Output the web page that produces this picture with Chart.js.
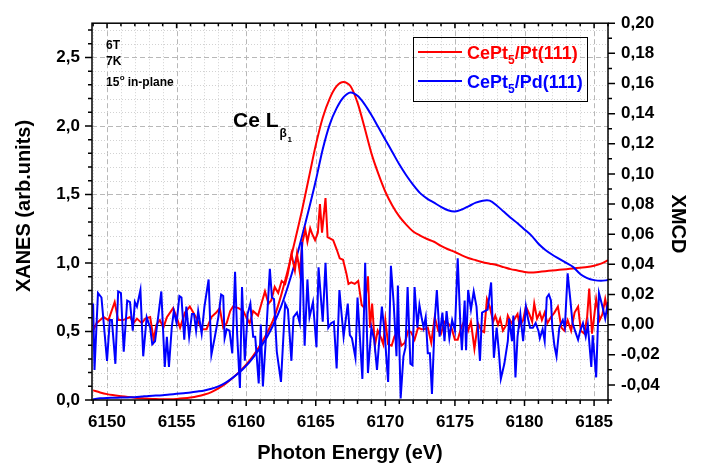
<!DOCTYPE html>
<html>
<head>
<meta charset="utf-8">
<script src="https://cdn.jsdelivr.net/npm/chart.js@4/dist/chart.umd.min.js"></script>
<style>
  html, body { margin: 0; padding: 0; background: #fff; }
  #wrap { width: 702px; height: 464px; position: relative; }
</style>
</head>
<body>
<div id="wrap"><canvas id="xmcdChart"></canvas></div>
<script>
// XANES spectra (left axis), 0.5 eV grid
var xanesEnergy = [6149, 6149.5, 6150, 6150.5, 6151, 6151.5, 6152, 6152.5, 6153, 6153.5, 6154, 6154.5, 6155, 6155.5, 6156, 6156.5, 6157, 6157.5, 6158, 6158.5, 6159, 6159.5, 6160, 6160.5, 6161, 6161.5, 6162, 6162.5, 6163, 6163.5, 6164, 6164.5, 6165, 6165.5, 6166, 6166.5, 6167, 6167.5, 6168, 6168.5, 6169, 6169.5, 6170, 6170.5, 6171, 6171.5, 6172, 6172.5, 6173, 6173.5, 6174, 6174.5, 6175, 6175.5, 6176, 6176.5, 6177, 6177.5, 6178, 6178.5, 6179, 6179.5, 6180, 6180.5, 6181, 6181.5, 6182, 6182.5, 6183, 6183.5, 6184, 6184.5, 6185, 6185.5, 6186];
var xanesPt = [0.070, 0.055, 0.043, 0.035, 0.028, 0.022, 0.017, 0.012, 0.009, 0.007, 0.006, 0.006, 0.008, 0.012, 0.018, 0.027, 0.040, 0.058, 0.085, 0.118, 0.158, 0.205, 0.258, 0.322, 0.400, 0.490, 0.600, 0.760, 0.950, 1.160, 1.380, 1.620, 1.860, 2.060, 2.200, 2.290, 2.320, 2.290, 2.170, 1.990, 1.800, 1.650, 1.520, 1.420, 1.340, 1.280, 1.230, 1.200, 1.175, 1.155, 1.125, 1.100, 1.080, 1.055, 1.035, 1.020, 1.005, 0.995, 0.985, 0.970, 0.955, 0.945, 0.935, 0.930, 0.935, 0.940, 0.945, 0.950, 0.955, 0.960, 0.965, 0.970, 0.980, 0.995, 1.020];
var xanesPd = [0.005, 0.012, 0.015, 0.016, 0.018, 0.019, 0.020, 0.025, 0.030, 0.032, 0.035, 0.040, 0.045, 0.050, 0.055, 0.062, 0.070, 0.082, 0.100, 0.125, 0.160, 0.200, 0.250, 0.310, 0.380, 0.460, 0.560, 0.680, 0.830, 1.000, 1.190, 1.390, 1.600, 1.830, 2.010, 2.130, 2.210, 2.245, 2.220, 2.160, 2.080, 1.990, 1.900, 1.810, 1.720, 1.640, 1.570, 1.510, 1.470, 1.440, 1.410, 1.385, 1.375, 1.390, 1.415, 1.440, 1.455, 1.455, 1.420, 1.375, 1.330, 1.290, 1.245, 1.200, 1.140, 1.095, 1.060, 1.030, 1.000, 0.970, 0.920, 0.890, 0.875, 0.870, 0.875];

// XMCD (right axis)
var xmcdPtEnergy = [6149, 6149.25, 6149.75, 6150.1, 6150.55, 6150.8, 6151.15, 6151.4, 6151.65, 6151.9, 6152.15, 6152.5, 6152.75, 6153.1, 6153.35, 6153.55, 6153.8, 6154.05, 6154.3, 6154.75, 6155, 6155.25, 6155.6, 6155.95, 6156.45, 6156.8, 6157.15, 6157.5, 6157.85, 6158.1, 6158.35, 6158.6, 6158.85, 6159.05, 6159.45, 6159.8, 6160, 6160.25, 6160.5, 6160.85, 6161.1, 6161.35, 6161.6, 6161.8, 6162.05, 6162.3, 6162.55, 6162.8, 6163, 6163.25, 6163.5, 6163.65, 6163.85, 6164.05, 6164.25, 6164.4, 6164.6, 6164.75, 6164.95, 6165.15, 6165.3, 6165.45, 6165.7, 6165.85, 6166.05, 6166.25, 6166.5, 6166.72, 6166.96, 6167.2, 6167.35, 6167.55, 6167.8, 6168.05, 6168.3, 6168.5, 6168.75, 6168.9, 6169.05, 6169.25, 6169.45, 6169.7, 6169.85, 6170, 6170.2, 6170.45, 6170.65, 6170.9, 6171.15, 6171.4, 6171.65, 6171.85, 6172.1, 6172.35, 6172.6, 6172.8, 6173.05, 6173.3, 6173.55, 6173.8, 6174, 6174.25, 6174.5, 6174.75, 6175, 6175.2, 6175.45, 6175.7, 6175.95, 6176.15, 6176.4, 6176.65, 6176.9, 6177.1, 6177.3, 6177.5, 6177.75, 6177.9, 6178.1, 6178.25, 6178.45, 6178.7, 6178.8, 6179.05, 6179.3, 6179.5, 6179.65, 6179.9, 6180.1, 6180.35, 6180.55, 6180.7, 6180.9, 6181.1, 6181.25, 6181.45, 6181.65, 6181.9, 6182.15, 6182.4, 6182.65, 6182.85, 6183.1, 6183.35, 6183.6, 6183.85, 6184.05, 6184.3, 6184.5, 6184.65, 6184.85, 6185, 6185.15, 6185.4, 6185.6, 6185.8, 6186];
var xmcdPt = [-0.004, 0.001, 0.005, 0.003, 0.015, 0.003, 0.003, 0.004, 0.005, 0.001, 0.004, 0.001, 0.004, 0.005, -0.010, 0.000, 0.003, -0.002, 0.005, 0.011, 0.005, -0.002, 0.008, 0.012, 0.004, -0.003, -0.003, 0.005, 0.008, 0.011, -0.002, 0.001, 0.009, 0.012, 0.011, 0.009, 0.005, 0.001, 0.009, 0.006, 0.014, 0.022, 0.014, 0.016, 0.025, 0.021, 0.029, 0.027, 0.034, 0.047, 0.036, 0.047, 0.035, 0.055, 0.063, 0.055, 0.064, 0.060, 0.056, 0.061, 0.080, 0.061, 0.084, 0.058, 0.057, 0.056, 0.050, 0.044, 0.043, 0.034, 0.027, 0.028, 0.027, 0.029, 0.013, 0.011, 0.032, -0.002, 0.014, -0.014, -0.004, -0.009, -0.013, 0.003, -0.013, -0.014, -0.008, -0.004, -0.014, -0.012, -0.004, -0.005, -0.010, -0.002, -0.003, -0.003, -0.002, -0.012, 0.005, -0.004, -0.006, 0.002, 0.001, -0.002, -0.010, -0.010, -0.002, 0.003, -0.004, 0.002, -0.016, 0.001, -0.004, -0.005, 0.017, 0.012, 0.002, 0.006, 0.000, 0.004, -0.004, 0.000, 0.006, 0.001, 0.004, 0.007, -0.001, 0.003, 0.012, 0.007, 0.002, 0.014, 0.004, 0.008, 0.003, 0.008, 0.001, 0.005, 0.008, 0.012, -0.002, -0.004, 0.003, -0.004, 0.008, 0.012, -0.004, -0.006, 0.005, 0.024, -0.006, 0.005, 0.017, 0.003, 0.007, 0.017, 0.007];
var xmcdPdEnergy = [6149, 6149.1, 6149.35, 6149.6, 6150, 6150.2, 6150.35, 6150.6, 6150.8, 6151, 6151.2, 6151.45, 6151.65, 6151.85, 6152, 6152.15, 6152.4, 6152.6, 6152.85, 6153.1, 6153.25, 6153.45, 6153.7, 6153.9, 6154.15, 6154.3, 6154.45, 6154.65, 6154.8, 6155, 6155.2, 6155.35, 6155.55, 6155.7, 6155.9, 6156.1, 6156.25, 6156.4, 6156.55, 6156.8, 6157, 6157.3, 6157.5, 6157.75, 6158, 6158.2, 6158.35, 6158.45, 6158.6, 6158.8, 6159, 6159.2, 6159.35, 6159.55, 6159.7, 6159.9, 6160.1, 6160.3, 6160.5, 6160.65, 6160.9, 6161.05, 6161.2, 6161.45, 6161.7, 6161.85, 6162, 6162.2, 6162.5, 6162.8, 6163, 6163.25, 6163.4, 6163.65, 6163.85, 6164, 6164.2, 6164.4, 6164.55, 6164.8, 6165.05, 6165.2, 6165.5, 6165.7, 6165.9, 6166.1, 6166.3, 6166.5, 6166.7, 6167, 6167.3, 6167.45, 6167.6, 6167.85, 6168, 6168.35, 6168.55, 6168.75, 6169, 6169.2, 6169.4, 6169.75, 6169.95, 6170.2, 6170.4, 6170.6, 6170.8, 6170.9, 6171.1, 6171.3, 6171.45, 6171.6, 6171.8, 6171.95, 6172.1, 6172.3, 6172.45, 6172.6, 6172.75, 6172.9, 6173.05, 6173.2, 6173.35, 6173.55, 6173.7, 6173.9, 6174.1, 6174.25, 6174.4, 6174.6, 6174.8, 6175, 6175.2, 6175.4, 6175.5, 6175.7, 6175.8, 6175.95, 6176.15, 6176.35, 6176.55, 6176.8, 6176.95, 6177.15, 6177.35, 6177.6, 6177.8, 6178, 6178.15, 6178.3, 6178.55, 6178.8, 6178.9, 6179.1, 6179.2, 6179.35, 6179.5, 6179.7, 6179.9, 6180.1, 6180.25, 6180.4, 6180.6, 6180.8, 6181, 6181.1, 6181.3, 6181.45, 6181.6, 6181.75, 6181.9, 6182, 6182.15, 6182.3, 6182.5, 6182.75, 6182.9, 6183.1, 6183.3, 6183.45, 6183.7, 6183.85, 6184, 6184.2, 6184.4, 6184.55, 6184.8, 6184.9, 6185.15, 6185.35, 6185.6, 6185.8, 6186];
var xmcdPd = [0.014, -0.030, 0.021, 0.018, -0.024, 0.003, 0.003, -0.026, 0.022, 0.021, -0.018, 0.016, 0.015, -0.004, 0.015, 0.012, 0.023, -0.021, 0.005, -0.002, -0.013, -0.011, 0.007, 0.022, -0.028, -0.008, -0.028, -0.002, 0.009, 0.001, 0.019, 0.018, -0.010, 0.012, -0.008, 0.007, 0.007, -0.004, 0.009, -0.006, 0.012, 0.030, -0.020, -0.008, 0.005, 0.020, 0.019, -0.009, -0.003, -0.004, -0.019, 0.035, -0.006, -0.042, 0.025, -0.024, 0.007, 0.014, -0.008, -0.008, -0.039, 0.000, -0.041, -0.004, 0.037, 0.018, 0.017, -0.018, -0.038, 0.014, 0.010, -0.024, 0.005, 0.008, 0.001, 0.055, -0.014, 0.030, 0.005, 0.015, -0.015, 0.038, 0.002, 0.041, -0.002, 0.001, 0.002, -0.029, 0.023, -0.008, 0.014, -0.007, -0.009, -0.022, 0.018, -0.036, 0.041, -0.032, -0.002, -0.010, -0.030, 0.012, -0.006, -0.038, 0.039, 0.014, -0.021, 0.026, -0.049, -0.021, -0.015, 0.025, -0.026, -0.027, 0.025, -0.002, 0.013, 0.005, -0.002, 0.005, -0.019, -0.019, -0.046, 0.003, 0.023, -0.008, 0.008, -0.011, 0.009, -0.009, 0.003, -0.004, 0.044, -0.002, -0.017, 0.016, -0.017, 0.023, 0.010, 0.022, 0.012, -0.024, 0.008, 0.009, 0.010, 0.028, -0.022, -0.002, -0.017, -0.036, -0.026, -0.011, 0.004, -0.011, 0.006, -0.035, -0.008, 0.007, -0.011, 0.012, 0.004, -0.002, -0.002, 0.001, -0.004, -0.009, -0.003, -0.011, 0.018, 0.020, 0.016, -0.002, -0.014, -0.021, -0.002, 0.003, -0.002, 0.034, 0.016, 0.001, -0.006, -0.010, -0.004, 0.001, -0.008, 0.000, -0.028, -0.007, -0.035, 0.021, 0.012, 0.004, 0.015];

// tick labels
var energyLabels = [6150, 6155, 6160, 6165, 6170, 6175, 6180, 6185];
var xanesLabels = [0, 0.5, 1.0, 1.5, 2.0, 2.5];
var xmcdLabels = [-0.04, -0.02, 0, 0.02, 0.04, 0.06, 0.08, 0.10, 0.12, 0.14, 0.16, 0.18, 0.20];
var seriesNames = [['CePt', '5', '/Pt(111)'], ['CePt', '5', '/Pd(111)']];
var seriesColors = ['#ff0000', '#0000ff'];

function pts(xs, ys) {
  return xs.map(function (v, i) { return { x: v, y: ys[i] }; });
}
function hasLabel(list, v, eps) {
  return list.some(function (l) { return Math.abs(l - v) < eps; });
}
function comma(v, d) {
  return v.toFixed(d).replace('.', ',');
}

var BOLD = 'bold ';
var FAM = 'Arial, "Liberation Sans", sans-serif';

// grid, ticks, frame and texts drawn by hand
var decor = {
  id: 'decor',
  beforeDatasetsDraw: function (chart) {
    var ctx = chart.ctx, a = chart.chartArea, x = chart.scales.x, yL = chart.scales.yL, yR = chart.scales.yR;
    ctx.save();
    ctx.lineWidth = 1;
    for (var e = 6149; e <= 6186; e++) {
      var px = Math.round(x.getPixelForValue(e)) + 0.5;
      var major = e % 5 === 0;
      ctx.strokeStyle = major ? '#b8b8b8' : '#d2d2d2';
      ctx.setLineDash(major ? [5, 3] : [1, 2]);
      ctx.beginPath(); ctx.moveTo(px, a.top); ctx.lineTo(px, a.bottom); ctx.stroke();
    }
    for (var i = 1; i <= 27; i++) {
      var py = Math.round(yL.getPixelForValue(i / 10)) + 0.5;
      var maj = i % 5 === 0;
      ctx.strokeStyle = maj ? '#b8b8b8' : '#d2d2d2';
      ctx.setLineDash(maj ? [5, 3] : [1, 2]);
      ctx.beginPath(); ctx.moveTo(a.left, py); ctx.lineTo(a.right, py); ctx.stroke();
    }
    ctx.setLineDash([]);
    // XMCD zero line
    var zy = Math.round(yR.getPixelForValue(0)) + 0.5;
    ctx.strokeStyle = '#000';
    ctx.beginPath(); ctx.moveTo(a.left, zy); ctx.lineTo(a.right, zy); ctx.stroke();
    ctx.restore();
  },
  afterDatasetsDraw: function (chart) {
    var ctx = chart.ctx, a = chart.chartArea, x = chart.scales.x, yL = chart.scales.yL, yR = chart.scales.yR;
    ctx.save();
    ctx.strokeStyle = '#000';
    ctx.lineWidth = 1.5;
    ctx.strokeRect(a.left, a.top, a.right - a.left, a.bottom - a.top);
    ctx.beginPath();
    for (var e = 6149; e <= 6186; e++) {
      var px = x.getPixelForValue(e);
      var major = e % 5 === 0;
      ctx.moveTo(px, a.bottom); ctx.lineTo(px, a.bottom + (major ? 6 : 4));
      ctx.moveTo(px, a.top); ctx.lineTo(px, a.top + (major ? 5 : 3));
    }
    for (var i = 0; i <= 27; i++) {
      var py = yL.getPixelForValue(i / 10);
      ctx.moveTo(a.left, py); ctx.lineTo(a.left - (i % 5 === 0 ? 7 : 4), py);
    }
    for (var j = -5; j <= 20; j++) {
      var ry = yR.getPixelForValue(j / 100);
      ctx.moveTo(a.right, ry); ctx.lineTo(a.right + (j % 2 === 0 ? 7 : 4), ry);
    }
    ctx.stroke();

    // notes
    ctx.fillStyle = '#000';
    ctx.textAlign = 'left';
    ctx.textBaseline = 'alphabetic';
    ctx.font = BOLD + '12px ' + FAM;
    ctx.fillText('6T', 106, 49);
    ctx.fillText('7K', 106, 65);
    ctx.fillText('15', 106, 86);
    var w15 = ctx.measureText('15').width;
    ctx.font = BOLD + '8px ' + FAM;
    ctx.fillText('o', 106 + w15 + 0.5, 80);
    ctx.font = BOLD + '12px ' + FAM;
    ctx.fillText(' in-plane', 106 + w15 + 5, 86);

    ctx.font = BOLD + '21px ' + FAM;
    ctx.fillText('Ce L', 233, 127);
    var wce = ctx.measureText('Ce L').width;
    ctx.font = BOLD + '12px ' + FAM;
    ctx.fillText('\u03b2', 233 + wce + 1, 137);
    ctx.font = BOLD + '8px ' + FAM;
    ctx.fillText('1', 233 + wce + 9, 142);

    // legend
    ctx.lineWidth = 1;
    ctx.strokeRect(413.5, 37.5, 174, 64);
    for (var k = 0; k < seriesNames.length; k++) {
      var ly = 52 + k * 29;
      ctx.strokeStyle = seriesColors[k];
      ctx.lineWidth = 2;
      ctx.beginPath(); ctx.moveTo(418, ly); ctx.lineTo(462, ly); ctx.stroke();
      ctx.fillStyle = seriesColors[k];
      var tx = 467, base = ly + 6.5;
      ctx.font = BOLD + '18px ' + FAM;
      ctx.fillText(seriesNames[k][0], tx, base);
      tx += ctx.measureText(seriesNames[k][0]).width;
      ctx.font = BOLD + '12px ' + FAM;
      ctx.fillText(seriesNames[k][1], tx, base + 5);
      tx += ctx.measureText(seriesNames[k][1]).width;
      ctx.font = BOLD + '18px ' + FAM;
      ctx.fillText(seriesNames[k][2], tx, base);
    }

    // axis titles
    ctx.fillStyle = '#000';
    ctx.font = BOLD + '20px ' + FAM;
    ctx.textAlign = 'center';
    ctx.fillText('Photon Energy (eV)', 350, 459);
    ctx.textBaseline = 'middle';
    ctx.save();
    ctx.translate(24, 206);
    ctx.rotate(-Math.PI / 2);
    ctx.fillText('XANES (arb.units)', 0, 0);
    ctx.restore();
    ctx.save();
    ctx.translate(678, 224);
    ctx.rotate(Math.PI / 2);
    ctx.fillText('XMCD', 0, 0);
    ctx.restore();
    ctx.restore();
  }
};

var tickFont = { family: FAM, size: 17, weight: 'bold' };

var ctx = document.getElementById('xmcdChart').getContext('2d');
var chart = new Chart(ctx, {
  type: 'line',
  data: {
    datasets: [{
      label: 'XMCD Pd', data: pts(xmcdPdEnergy, xmcdPd), yAxisID: 'yR',
      borderColor: '#0000ff', borderWidth: 2, pointRadius: 0, tension: 0, order: 0
    }, {
      label: 'XMCD Pt', data: pts(xmcdPtEnergy, xmcdPt), yAxisID: 'yR',
      borderColor: '#ff0000', borderWidth: 2, pointRadius: 0, tension: 0, order: 1
    }, {
      label: 'XANES Pd', data: pts(xanesEnergy, xanesPd), yAxisID: 'yL',
      borderColor: '#0000ff', borderWidth: 2, pointRadius: 0, tension: 0.3, order: 2
    }, {
      label: 'XANES Pt', data: pts(xanesEnergy, xanesPt), yAxisID: 'yL',
      borderColor: '#ff0000', borderWidth: 2, pointRadius: 0, tension: 0.3, order: 3
    }]
  },
  options: {
    responsive: true,
    maintainAspectRatio: false,
    animation: false,
    layout: { padding: { top: 22, left: 0, right: 0, bottom: 0 } },
    plugins: { legend: { display: false }, tooltip: { enabled: false } },
    scales: {
      x: {
        type: 'linear', min: 6148.92, max: 6186.0,
        grid: { display: false, drawTicks: false },
        border: { display: false },
        ticks: {
          stepSize: 1, includeBounds: false, autoSkip: false, maxRotation: 0,
          padding: 12, color: '#000', font: tickFont,
          callback: function (v) { return hasLabel(energyLabels, v, 0.01) ? String(Math.round(v)) : ''; }
        },
        afterFit: function (s) { s.height = 64; }
      },
      yL: {
        type: 'linear', position: 'left', min: 0, max: 2.75,
        grid: { display: false, drawTicks: false },
        border: { display: false },
        ticks: {
          stepSize: 0.1, includeBounds: false, autoSkip: false, padding: 12,
          color: '#000', font: tickFont,
          callback: function (v) { return hasLabel(xanesLabels, v, 0.001) ? comma(v, 1) : ''; }
        },
        afterFit: function (s) { s.width = 92; }
      },
      yR: {
        type: 'linear', position: 'right', min: -0.05, max: 0.20,
        grid: { display: false, drawTicks: false },
        border: { display: false },
        ticks: {
          stepSize: 0.01, includeBounds: false, autoSkip: false, padding: 13,
          color: '#000', font: tickFont,
          callback: function (v) { return hasLabel(xmcdLabels, v, 0.0005) ? comma(v, 2) : ''; }
        },
        afterFit: function (s) { s.width = 94; }
      }
    }
  },
  plugins: [decor]
});
</script>
</body>
</html>
